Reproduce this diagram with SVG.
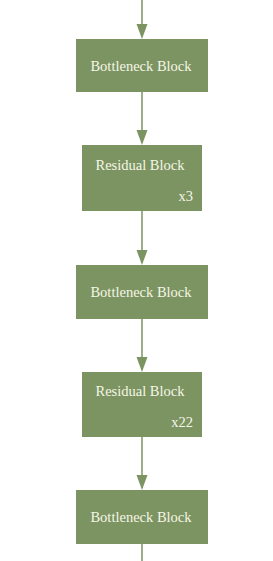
<svg xmlns="http://www.w3.org/2000/svg" width="273" height="561" viewBox="0 0 273 561">
<defs>
<style>
.box{fill:#7b9462;}
.t{font-family:"Liberation Serif","Times New Roman",serif;font-size:14.5px;fill:#f6f6e6;}
.c{text-anchor:middle;}
.r{text-anchor:end;}
.ln{stroke:#7b9462;stroke-width:1.5;fill:none;}
.ah{fill:#7b9462;}
</style>
</defs>
<rect width="273" height="561" fill="#ffffff"/>
<g id="connectors">
<line class="ln" x1="142" y1="0" x2="142" y2="26"/>
<polygon class="ah" points="136.5,24 147.5,24 142,39"/>
<line class="ln" x1="142" y1="92" x2="142" y2="132"/>
<polygon class="ah" points="136.5,130 147.5,130 142,145"/>
<line class="ln" x1="142" y1="211" x2="142" y2="252"/>
<polygon class="ah" points="136.5,250 147.5,250 142,265"/>
<line class="ln" x1="142" y1="319" x2="142" y2="359"/>
<polygon class="ah" points="136.5,357 147.5,357 142,372"/>
<line class="ln" x1="142" y1="437" x2="142" y2="477"/>
<polygon class="ah" points="136.5,475 147.5,475 142,490"/>
<line class="ln" x1="142" y1="544" x2="142" y2="561"/>
</g>
<g id="bottleneck1">
<rect class="box" x="76" y="39" width="132" height="53"/>
<text class="t c" x="141" y="71">Bottleneck Block</text>
</g>
<g id="residual1">
<rect class="box" x="82" y="145" width="120" height="66"/>
<text class="t c" x="140" y="170">Residual Block</text>
<text class="t r" x="193" y="201">x3</text>
</g>
<g id="bottleneck2">
<rect class="box" x="76" y="265" width="132" height="54"/>
<text class="t c" x="141" y="297">Bottleneck Block</text>
</g>
<g id="residual2">
<rect class="box" x="82" y="372" width="120" height="65"/>
<text class="t c" x="140" y="396">Residual Block</text>
<text class="t r" x="193" y="427">x22</text>
</g>
<g id="bottleneck3">
<rect class="box" x="76" y="490" width="132" height="54"/>
<text class="t c" x="141" y="522">Bottleneck Block</text>
</g>
</svg>
